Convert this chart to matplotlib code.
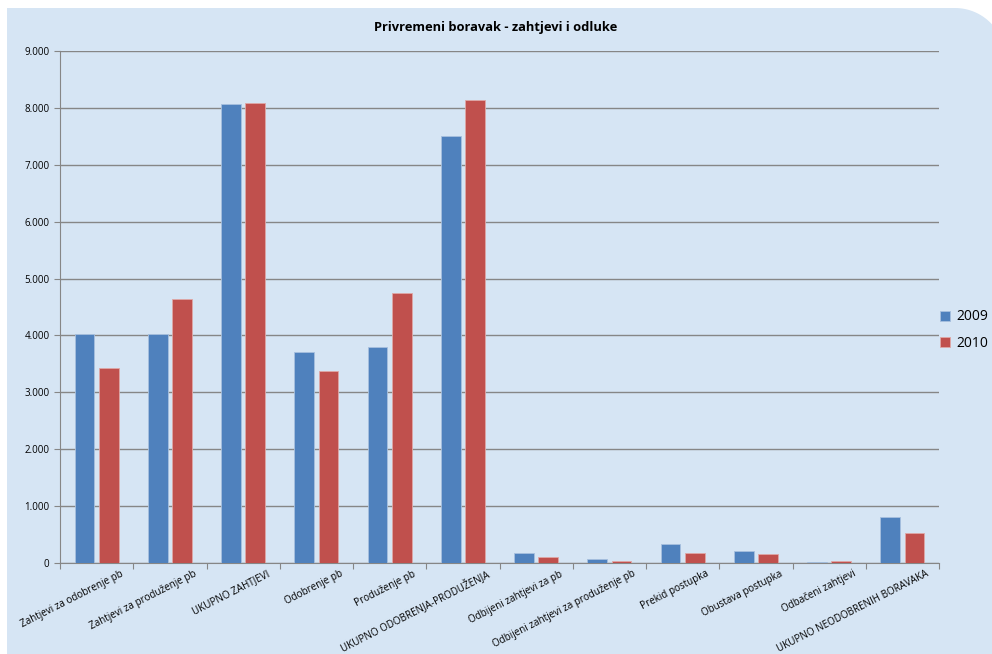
import matplotlib.pyplot as plt
import numpy as np
from matplotlib.patches import PathPatch
from matplotlib.path import Path
from matplotlib.transforms import IdentityTransform
from matplotlib.ticker import FuncFormatter

categories = ['Zahtjevi za odobrenje pb', 'Zahtjevi za produženje pb', 'UKUPNO ZAHTJEVI',
              'Odobrenje pb', 'Produženje pb', 'UKUPNO ODOBRENJA-PRODUŽENJA',
              'Odbijeni zahtjevi za pb', 'Odbijeni zahtjevi za produženje pb',
              'Prekid postupka', 'Obustava postupka', 'Odbačeni zahtjevi',
              'UKUPNO NEODOBRENIH BORAVAKA']
values_2009 = [4025, 4025, 8067, 3708, 3796, 7504, 176, 70, 334, 211, 18, 808]
values_2010 = [3427, 4640, 8084, 3374, 4745, 8137, 105, 35, 176, 158, 35, 527]

plt.rcParams['font.family'] = ['Open Sans', 'DejaVu Sans']

fig = plt.figure(figsize=(9.92, 6.54), dpi=100)
fig.patch.set_facecolor('white')

# light blue chart area, square corners except a rounded top-right one (pixel coords)
top = 654 - 8
cx, cy, r = 955, top - 50, 50
ang = np.linspace(np.pi / 2, 0, 30)
verts = [(7, -10), (7, top)] + [(cx + r * np.cos(a), cy + r * np.sin(a)) for a in ang] \
        + [(cx + r, -10), (7, -10)]
bg = PathPatch(Path(verts), transform=IdentityTransform(), facecolor='#D6E5F4',
               edgecolor='none', zorder=-5)
fig.patches.append(bg)

ax = fig.add_axes([60 / 992, 1 - 563 / 654, 879 / 992, 512 / 654])
ax.set_facecolor('none')
ax.set_zorder(1)

x = np.arange(len(categories))
w = 0.27
ax.bar(x - 0.165, values_2009, w, color='#4F81BD', edgecolor='#A7C0DE', linewidth=0.6,
       label='2009', zorder=3)
ax.bar(x + 0.165, values_2010, w, color='#C0504D', edgecolor='#DFA8A6', linewidth=0.6,
       label='2010', zorder=3)

ax.set_xlim(-0.5, len(categories) - 0.5)
ax.set_ylim(0, 9000)
ax.set_yticks(np.arange(0, 9001, 1000))
ax.yaxis.set_major_formatter(FuncFormatter(lambda v, p: f'{int(v):,}'.replace(',', '.')))
ax.grid(axis='y', color='#868686', linewidth=1, zorder=1)

ax.set_xticks(np.arange(-0.5, len(categories), 1))
ax.set_xticklabels([])
ax.set_xticks(x + 0.32, minor=True)
ax.set_xticklabels(categories, minor=True, rotation=27, ha='right', va='top',
                   rotation_mode='anchor', fontsize=7.1)
ax.tick_params(axis='x', which='minor', length=0, pad=4)
ax.tick_params(axis='x', which='major', length=4, color='#868686')
ax.tick_params(axis='y', length=4, color='#868686', labelsize=7)

for s in ['top', 'right']:
    ax.spines[s].set_visible(False)
ax.spines['left'].set_color('#868686')
ax.spines['bottom'].set_color('#868686')

fig.text(0.5, 1 - 27 / 654, 'Privremeni boravak - zahtjevi i odluke', ha='center',
         va='center', fontsize=9.3, fontweight='bold')

fig.legend(loc='center left', bbox_to_anchor=(940 / 992, 1 - 330 / 654), frameon=False,
           fontsize=10, handlelength=0.75, handleheight=0.75, handletextpad=0.4,
           labelspacing=0.8, borderaxespad=0, borderpad=0)

fig.savefig('out.png', dpi=100)
